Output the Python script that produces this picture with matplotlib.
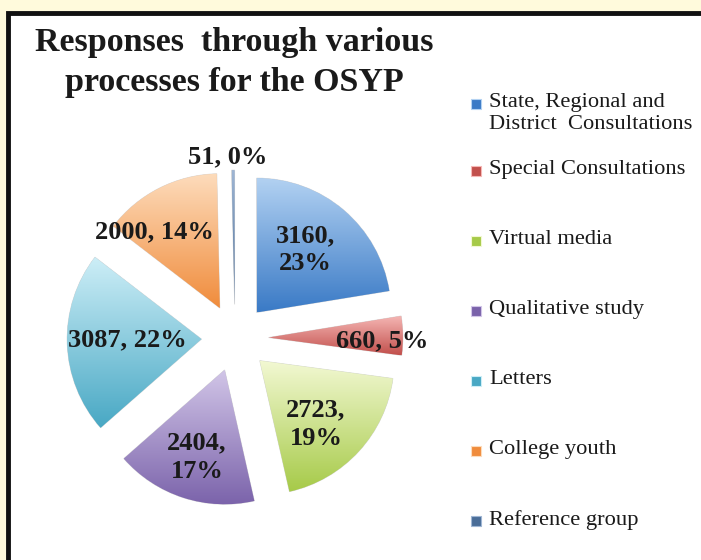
import matplotlib.pyplot as plt
import numpy as np
from matplotlib.colors import LinearSegmentedColormap
from matplotlib.patches import Rectangle

# data
categories = [
    "State, Regional and\nDistrict  Consultations",
    "Special Consultations",
    "Virtual media",
    "Qualitative study",
    "Letters",
    "College youth",
    "Reference group",
]
responses = [3160, 660, 2723, 2404, 3087, 2000, 51]
slice_labels = ["3160,\n23%", "660, 5%", "2723,\n19%", "2404,\n17%",
                "3087, 22%", "2000, 14%", "51, 0%"]

# light (top) / dark (bottom) gradient ends per slice
light_colors = ["#b3d2f2", "#f6b8b6", "#f2f8d2", "#d2c6e8", "#cdeef7", "#fddcbc", "#9fb6d4"]
dark_colors = ["#3a7ac6", "#c2504c", "#a6ca48", "#7a62aa", "#48a8c4", "#f08c3c", "#4a6d98"]
# label placement relative to each exploded slice: radius and angle tweak (deg)
label_dist = [0.59, 0.845, 0.63, 0.68, 0.555, 0.75, 1.10]
label_turn = [2.7, -2.5, -6, 0.4, -1.1, 14, 2]

SERIF = ["Liberation Serif", "DejaVu Serif"]

fig = plt.figure(figsize=(7.01, 5.6), dpi=100)
fig.patch.set_facecolor("#fffadc")

# overlay in pixel coordinates for frame, title and legend
bg = fig.add_axes([0, 0, 1, 1])
bg.set_xlim(0, 701)
bg.set_ylim(560, 0)
bg.axis("off")
bg.add_patch(Rectangle((8, 13), 720, 580, facecolor="white", edgecolor="#111111", linewidth=3.5))

bg.text(234, 42, "Responses  through various", ha="center", va="center",
        fontsize=24.5, fontweight="bold", family=SERIF, color="#1a1a1a")
bg.text(234, 82, "processes for the OSYP", ha="center", va="center",
        fontsize=24.5, fontweight="bold", family=SERIF, color="#1a1a1a")

# pie
ax = fig.add_axes([47 / 701, 34 / 560, 376 / 701, 376 / 560])
ax.axis("off")

wedges, _ = ax.pie(responses, startangle=90, counterclock=False,
                   explode=[0.25] * len(responses), colors=dark_colors,
                   wedgeprops=dict(linewidth=0.6, edgecolor="#d8d8d8"))

grad = np.linspace(0, 1, 256).reshape(-1, 1)
for w, lc, dc, txt, d, turn in zip(wedges, light_colors, dark_colors,
                                   slice_labels, label_dist, label_turn):
    verts = w.get_path().vertices
    x0, y0 = verts.min(axis=0)
    x1, y1 = verts.max(axis=0)
    cmap = LinearSegmentedColormap.from_list("g", [dc, lc])
    im = ax.imshow(grad, cmap=cmap, extent=[x0, x1, y0, y1], origin="lower",
                   aspect="auto", zorder=w.get_zorder() + 0.1)
    im.set_clip_path(w)
    cx, cy = w.center
    mid = np.deg2rad((w.theta1 + w.theta2) / 2 + turn)
    ax.text(cx + d * np.cos(mid), cy + d * np.sin(mid), txt, ha="center", va="center",
            fontsize=19, fontweight="bold", family=SERIF, color="#1a1a1a",
            linespacing=1.3, zorder=5)
ax.set_xlim(-1.4, 1.4)
ax.set_ylim(-1.4, 1.4)

# legend
for i, (name, lc, dc) in enumerate(zip(categories, light_colors, dark_colors)):
    y = 101 + 70 * i + (3 if i == 0 else 0)
    bg.add_patch(Rectangle((471, y - 5), 10, 10, facecolor=dc, edgecolor=lc, linewidth=0.8))
    bg.text(489, y - 11, name, ha="left", va="top", fontsize=16.2, family=SERIF,
            color="#1a1a1a", linespacing=1.2)

fig.savefig("out.png", dpi=100)
